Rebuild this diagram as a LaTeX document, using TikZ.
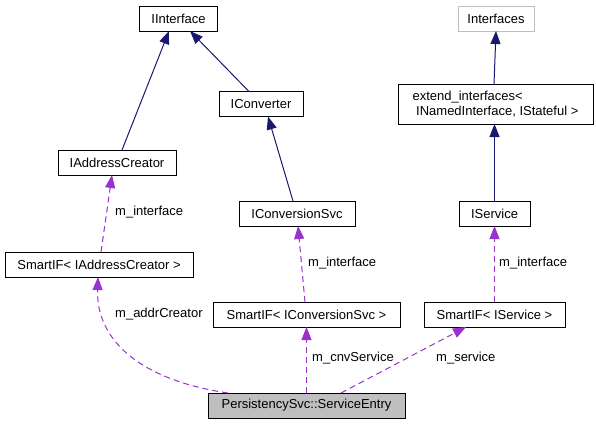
\documentclass[tikz,border=0pt]{standalone}
\usepackage{fontspec}
\setmainfont{Liberation Sans}
\usetikzlibrary{arrows.meta,positioning,calc}
\definecolor{inhcol}{RGB}{25,25,112}
\definecolor{usecol}{RGB}{154,50,205}
\definecolor{boxgray}{RGB}{191,191,191}
\tikzset{>={Triangle[length=13pt,width=10pt]}}
\tikzset{
  box/.style={draw,rectangle,align=center,minimum height=25pt,inner sep=2pt,outer sep=0pt,line width=1pt},
  lbl/.style={anchor=west,inner sep=0pt},
  inh/.style={->,color=inhcol,line width=1pt},
  use/.style={->,color=usecol,line width=1pt,dash pattern=on 6pt off 4pt}
}

\begin{document}
\begin{tikzpicture}[x=1pt,y=-1pt,font=\fontsize{13}{15.5}\selectfont]

\useasboundingbox (0,0) rectangle (596,424);

\node [box,minimum width=78pt] (iint) at (178.5,18.5) {IInterface};
\node [box,minimum width=84pt] (iconv) at (261,104) {IConverter};
\node [box,minimum width=118pt] (iac) at (117,162.5) {IAddressCreator};
\node [box,minimum width=116pt] (icsvc) at (297,213.5) {IConversionSvc};
\node [box,draw=boxgray,minimum width=76pt] (ifaces) at (496,18.5) {Interfaces};
\node [box,align=left,minimum width=195pt,minimum height=40pt] (ext) at (495.5,104) {extend\_interfaces<\\\hspace*{3.6pt}INamedInterface, IStateful >};
\node [box,minimum width=71pt] (isvc) at (494.5,213.5) {IService};
\node [box,minimum width=188pt] (sai) at (99,264.5) {SmartIF< IAddressCreator >};
\node [box,minimum width=187pt] (scs) at (306.5,314.5) {SmartIF< IConversionSvc >};
\node [box,minimum width=141pt] (ssv) at (494.5,314.5) {SmartIF< IService >};
\node [box,fill=boxgray,minimum width=197pt] (entry) at (306.5,405.5) {PersistencySvc::ServiceEntry};

\node [lbl] (l1) at (115,212) {m\_interface};
\node [lbl] (l2) at (308,263) {m\_interface};
\node [lbl] (l3) at (499,263) {m\_interface};
\node [lbl] (l4) at (115,314) {m\_addrCreator};
\node [lbl] (l5) at (312,358) {m\_cnvService};
\node [lbl] (l6) at (436,358) {m\_service};

\begin{scope}
\draw[inh] ([xshift=5pt]iac.north) to ([xshift=-9.5pt]iint.south);
\draw[inh] ([xshift=-12pt]iconv.north) to ([xshift=11.5pt]iint.south);
\draw[inh] ([xshift=-4pt]icsvc.north) to ([xshift=7pt]iconv.south);
\draw[inh] ([xshift=-1.5pt]ext.north) to (ifaces.south);
\draw[inh] (isvc.north) to ([xshift=-1pt]ext.south);
\draw[use] ([xshift=2pt]sai.north) to ([xshift=-5pt]iac.south);
\draw[use] ([xshift=-1.5pt]scs.north) to ([xshift=1pt]icsvc.south);
\draw[use] (ssv.north) to (isvc.south);
\draw[use] ([xshift=-78.5pt]entry.north) .. controls (140,380) and (96,340) .. ([xshift=-1pt]sai.south);
\draw[use] (entry.north) to (scs.south);
\draw[use] ([xshift=34.5pt]entry.north) to ([xshift=-28.5pt]ssv.south);
\end{scope}

\end{tikzpicture}
\end{document}
